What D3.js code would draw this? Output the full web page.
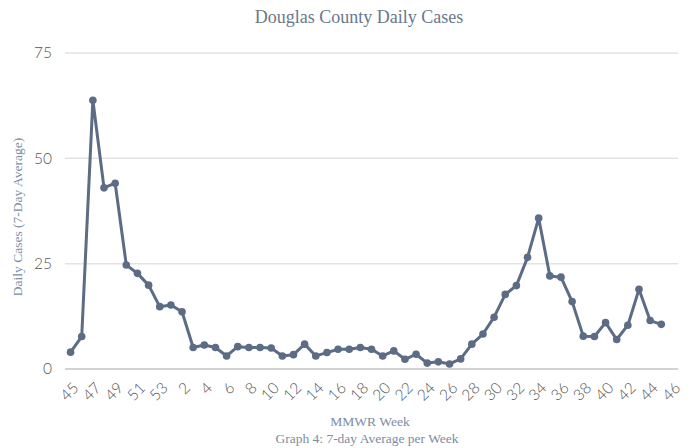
<!DOCTYPE html>
<html>
<head>
<meta charset="utf-8">
<script src="https://cdn.jsdelivr.net/npm/d3@7"></script>
<style>
  body { margin: 0; background: #fff; }
  .title { font-family: "Liberation Serif", serif; fill: #6a788c; }
  .axisText { font-family: "Liberation Serif", serif; fill: #7d8ca3; }
  .tick text { font-family: "Lato", sans-serif; fill: #555; font-weight: 300; }
</style>
</head>
<body>
<div id="chart"></div>
<script>
// weeks: 45..53 of 2020 then 1..46 of 2021
var weeks = [45, 46, 47, 48, 49, 50, 51, 52, 53,
  1, 2, 3, 4, 5, 6, 7, 8, 9, 10, 11, 12, 13, 14, 15, 16, 17, 18, 19, 20,
  21, 22, 23, 24, 25, 26, 27, 28, 29, 30, 31, 32, 33, 34, 35, 36, 37, 38, 39, 40,
  41, 42, 43, 44, 45, 46];
var cases = [4.0, 7.7, 63.8, 43.0, 44.1, 24.7, 22.7, 19.9, 14.8,
  15.2, 13.6, 5.1, 5.7, 5.1, 3.1, 5.3, 5.1, 5.1, 5.0, 3.1, 3.4, 5.9, 3.1, 3.9, 4.7, 4.7, 5.1, 4.7, 3.1,
  4.3, 2.3, 3.5, 1.4, 1.7, 1.2, 2.4, 5.9, 8.3, 12.3, 17.7, 19.8, 26.5, 35.8, 22.1, 21.8, 16.0, 7.8, 7.7, 11.0,
  7.0, 10.4, 18.9, 11.5, 10.6, null];
var yTicks = [0, 25, 50, 75];

var svgWidth = 694;
var svgHeight = 448;
var margin = { top: 53, right: 16, bottom: 79, left: 65 };
var width = svgWidth - margin.left - margin.right;
var height = svgHeight - margin.top - margin.bottom;

var svg = d3.select("#chart")
  .append("svg")
  .attr("width", svgWidth)
  .attr("height", svgHeight);

var chartGroup = svg.append("g")
  .attr("transform", `translate(${margin.left}, ${margin.top})`);

var idx = d3.range(weeks.length);

var xScale = d3.scaleBand()
  .domain(idx)
  .range([0, width]);

var yScale = d3.scaleLinear()
  .domain([0, 75])
  .range([height, 0]);

// gridlines
chartGroup.selectAll("line.grid")
  .data(yTicks)
  .enter()
  .append("line")
  .attr("class", "grid")
  .attr("x1", 0)
  .attr("x2", width)
  .attr("y1", d => yScale(d))
  .attr("y2", d => yScale(d))
  .attr("stroke", d => d === 0 ? "#c4c4c4" : "#e3e3e3")
  .attr("stroke-width", 1.5);

var yAxis = d3.axisLeft(yScale).tickValues(yTicks).tickSize(0).tickPadding(13);
var yG = chartGroup.append("g").call(yAxis);
yG.select(".domain").remove();
yG.selectAll("text").attr("font-size", 15.5);

var xAxis = d3.axisBottom(xScale)
  .tickValues(idx.filter(i => i % 2 === 0))
  .tickFormat(i => weeks[i])
  .tickSize(0);
var xG = chartGroup.append("g")
  .attr("transform", `translate(0, ${height})`)
  .call(xAxis);
xG.select(".domain").remove();
xG.selectAll("text")
  .attr("font-size", 15.5)
  .attr("text-anchor", "end")
  .attr("dy", 0)
  .attr("y", 0)
  .attr("transform", "translate(9, 20) rotate(-45)");

var pts = idx.filter(i => cases[i] !== null);

var line = d3.line()
  .x(i => xScale(i) + xScale.bandwidth() / 2)
  .y(i => yScale(cases[i]));

chartGroup.append("path")
  .datum(pts)
  .attr("fill", "none")
  .attr("stroke", "#5b6c84")
  .attr("stroke-width", 3)
  .attr("stroke-linejoin", "round")
  .attr("d", line);

chartGroup.selectAll("circle")
  .data(pts)
  .enter()
  .append("circle")
  .attr("cx", i => xScale(i) + xScale.bandwidth() / 2)
  .attr("cy", i => yScale(cases[i]))
  .attr("r", 3.8)
  .attr("fill", "#5b6c84");

svg.append("text")
  .attr("class", "title")
  .attr("x", 359)
  .attr("y", 23)
  .attr("text-anchor", "middle")
  .attr("font-size", 18)
  .text("Douglas County Daily Cases");

svg.append("text")
  .attr("class", "axisText")
  .attr("transform", "rotate(-90)")
  .attr("x", -217)
  .attr("y", 22)
  .attr("text-anchor", "middle")
  .attr("font-size", 13.5)
  .text("Daily Cases (7-Day Average)");

svg.append("text")
  .attr("class", "axisText")
  .attr("x", 370)
  .attr("y", 426)
  .attr("text-anchor", "middle")
  .attr("font-size", 13.5)
  .text("MMWR Week");

svg.append("text")
  .attr("class", "axisText")
  .attr("x", 367)
  .attr("y", 443)
  .attr("text-anchor", "middle")
  .attr("font-size", 13.5)
  .text("Graph 4: 7-day Average per Week");
</script>
</body>
</html>
